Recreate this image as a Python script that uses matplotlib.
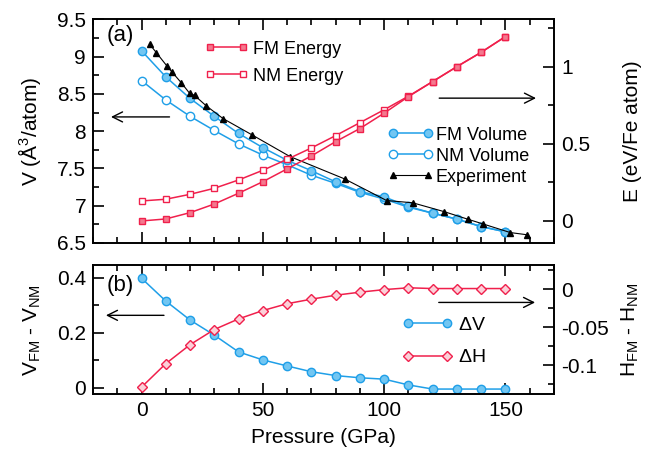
import numpy as np
import matplotlib
matplotlib.use("Agg")
import matplotlib.pyplot as plt
from matplotlib.ticker import MultipleLocator, FormatStrFormatter

plt.rcParams['font.family'] = ['Liberation Sans', 'DejaVu Sans']
plt.rcParams['axes.unicode_minus'] = False
plt.rcParams['mathtext.fontset'] = 'custom'
plt.rcParams['mathtext.rm'] = 'Liberation Sans'
plt.rcParams['mathtext.it'] = 'Liberation Sans'

# pressures (GPa)
p = [0, 10, 20, 30, 40, 50, 60, 70, 80, 90, 100, 110, 120, 130, 140, 150]

# volumes (A^3/atom)
v_fm = [9.08, 8.73, 8.44, 8.20, 7.97, 7.78, 7.61, 7.47, 7.32, 7.19, 7.12,
        6.99, 6.90, 6.82, 6.72, 6.65]
v_nm = [8.68, 8.42, 8.20, 8.01, 7.83, 7.68, 7.55, 7.41, 7.30, 7.18, 7.09,
        6.98, 6.90, 6.82, 6.72, 6.65]

# experiment
p_exp = [3.3, 6.1, 10.6, 12.7, 16.4, 19.8, 21.9, 26.7, 33.6, 45.6, 61.2,
         83.7, 101, 111.7, 124.8, 134.4, 140.8, 152, 159]
v_exp = [9.17, 9.055, 8.87, 8.79, 8.65, 8.51, 8.48, 8.34, 8.17, 7.95, 7.66,
         7.36, 7.07, 7.04, 6.92, 6.82, 6.755, 6.64, 6.61]

# energies (eV/Fe atom)
e_fm = [0.0, 0.013, 0.054, 0.110, 0.180, 0.255, 0.338, 0.422, 0.515, 0.600,
        0.700, 0.807, 0.905, 1.002, 1.095, 1.197]
e_nm = [0.130, 0.141, 0.173, 0.212, 0.266, 0.329, 0.400, 0.474, 0.554, 0.638,
        0.722, 0.810, 0.905, 1.002, 1.095, 1.197]

# differences
dv = [0.399, 0.316, 0.247, 0.192, 0.131, 0.102, 0.080, 0.059, 0.045, 0.037,
      0.032, 0.011, -0.004, -0.004, -0.004, -0.004]
dh = [-0.129, -0.098, -0.073, -0.053, -0.039, -0.028, -0.019, -0.013, -0.0078,
      -0.0038, -0.0004, 0.002, 0.001, 0.001, 0.001, 0.001]

blue = '#1f9fe8'
blue_f = '#72c6f2'
red = '#f0204c'
red_f = '#f3798e'

fig = plt.figure(figsize=(6.6, 4.59), dpi=100)
ax1 = fig.add_axes([0.1409, 0.4706, 0.6985, 0.487])
ax2 = fig.add_axes([0.1409, 0.1416, 0.6985, 0.281])
ax1r = ax1.twinx()
ax2r = ax2.twinx()

lw = 1.1
# top panel: volumes
ax1.plot(p, v_nm, '-o', color=blue, mfc='white', mec=blue, ms=6, lw=lw, label='NM Volume', zorder=3)
ax1.plot(p, v_fm, '-o', color=blue, mfc=blue_f, mec=blue, ms=6, lw=lw, label='FM Volume', zorder=4)
ax1.plot(p_exp, v_exp, '-^', color='black', ms=4.5, lw=0.8, label='Experiment', zorder=5)

# top panel: energies
ax1r.plot(p, e_nm, '-s', color=red, mfc='white', mec=red, ms=5, lw=lw, label='NM Energy', zorder=3)
ax1r.plot(p, e_fm, '-s', color=red, mfc=red_f, mec=red, ms=5, lw=lw, label='FM Energy', zorder=4)

# bottom panel
ax2.plot(p, dv, '-o', color=blue, mfc=blue_f, mec=blue, ms=6, lw=lw, label=r'$\Delta$V')
ax2r.plot(p, dh, '-D', color=red, mfc='#fbd0d8', mec=red, ms=5, lw=lw, label=r'$\Delta$H')

for a in (ax1, ax2):
    a.set_xlim(-20, 170)
    a.xaxis.set_major_locator(MultipleLocator(50))
    a.xaxis.set_minor_locator(MultipleLocator(10))

ax1.set_ylim(6.5, 9.5)
ax1.yaxis.set_major_locator(MultipleLocator(0.5))
ax1.yaxis.set_minor_locator(MultipleLocator(0.25))
ax1.yaxis.set_major_formatter(FormatStrFormatter('%g'))
ax1.tick_params(axis='x', labelbottom=False)

ax1r.set_ylim(-0.143, 1.308)
ax1r.yaxis.set_major_locator(MultipleLocator(0.5))
ax1r.yaxis.set_minor_locator(MultipleLocator(0.25))
ax1r.yaxis.set_major_formatter(FormatStrFormatter('%g'))

ax2.set_ylim(-0.022, 0.447)
ax2.yaxis.set_major_locator(MultipleLocator(0.2))
ax2.yaxis.set_minor_locator(MultipleLocator(0.1))
ax2.yaxis.set_major_formatter(FormatStrFormatter('%g'))

ax2r.set_ylim(-0.138, 0.032)
ax2r.yaxis.set_major_locator(MultipleLocator(0.05))
ax2r.yaxis.set_minor_locator(MultipleLocator(0.025))
ax2r.yaxis.set_major_formatter(FormatStrFormatter('%g'))

for a in (ax1, ax2, ax1r, ax2r):
    a.tick_params(which='both', direction='in', width=1.2, labelsize=15, pad=5)
    a.tick_params(which='major', length=8)
    a.tick_params(which='minor', length=4)
    for s in a.spines.values():
        s.set_linewidth(1.2)
for a in (ax1, ax2):
    a.tick_params(which='both', top=True)

ax1.set_ylabel(r'V ($\mathrm{\AA}^3$/atom)', fontsize=15)
ax1r.set_ylabel('E (eV/Fe atom)', fontsize=15)
ax2.set_ylabel(r'V$_\mathrm{FM}$ - V$_\mathrm{NM}$', fontsize=15)
ax2r.set_ylabel(r'H$_\mathrm{FM}$ - H$_\mathrm{NM}$', fontsize=15)
ax2.set_xlabel('Pressure (GPa)', fontsize=15, labelpad=6)
ax1.yaxis.set_label_coords(-0.108, 0.5)
ax2.yaxis.set_label_coords(-0.108, 0.5)
ax1r.yaxis.set_label_coords(1.150, 0.5)
ax2r.yaxis.set_label_coords(1.143, 0.5)

ax1.text(0.03, 0.93, '(a)', transform=ax1.transAxes, fontsize=16, va='center')
ax2.text(0.03, 0.84, '(b)', transform=ax2.transAxes, fontsize=16, va='center')

arrow = dict(arrowstyle='->', color='black', lw=1.0, mutation_scale=18)
ax1.annotate('', xy=(0.033, 0.564), xytext=(0.172, 0.564), xycoords='axes fraction', arrowprops=arrow)
ax1.annotate('', xy=(0.967, 0.648), xytext=(0.745, 0.648), xycoords='axes fraction', arrowprops=arrow)
ax2.annotate('', xy=(0.022, 0.61), xytext=(0.16, 0.61), xycoords='axes fraction', arrowprops=arrow)
ax2.annotate('', xy=(0.965, 0.71), xytext=(0.744, 0.71), xycoords='axes fraction', arrowprops=arrow)

h, l = ax1r.get_legend_handles_labels()
ax1r.legend(h[::-1], l[::-1], loc='upper left', bbox_to_anchor=(0.243, 0.905),
            frameon=False, fontsize=13, numpoints=2, handlelength=2.4,
            handletextpad=0.25, labelspacing=0.55, borderpad=0, borderaxespad=0)
h, l = ax1.get_legend_handles_labels()
order = [1, 0, 2]
ax1.legend([h[i] for i in order], [l[i] for i in order], loc='upper left',
           bbox_to_anchor=(0.64, 0.52), frameon=False, fontsize=13, numpoints=2,
           handlelength=2.5, handletextpad=0.15, labelspacing=0.22, borderpad=0,
           borderaxespad=0)
h1, l1 = ax2.get_legend_handles_labels()
h2, l2 = ax2r.get_legend_handles_labels()
ax2r.legend(h1 + h2, l1 + l2, loc='upper left', bbox_to_anchor=(0.67, 0.6),
            frameon=False, fontsize=14, numpoints=2, handlelength=2.6,
            handletextpad=0.3, labelspacing=0.75, borderpad=0, borderaxespad=0)

fig.savefig('out.png', dpi=100)
